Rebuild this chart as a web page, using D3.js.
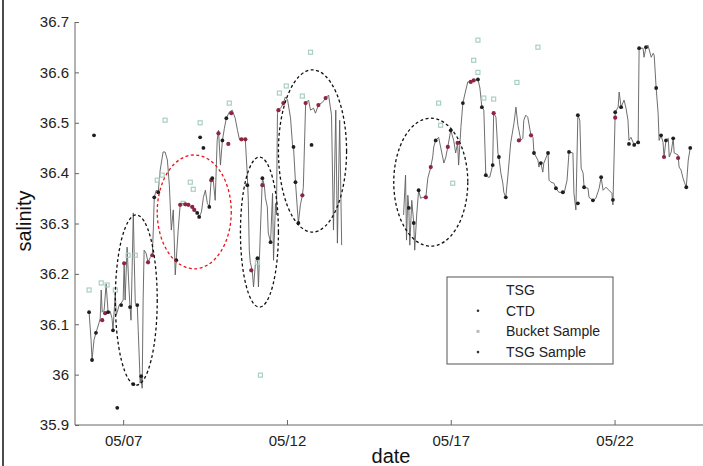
<!DOCTYPE html>
<html>
<head>
<meta charset="utf-8">
<script src="https://cdn.jsdelivr.net/npm/d3@7"></script>
<style>
  body { margin: 0; background: #fff; }
  svg { display: block; font-family: "Liberation Sans", Arial, sans-serif; }
</style>
</head>
<body>
<svg id="chart" width="703" height="466"></svg>
<script>
// day of May (decimal), salinity
const tsg = [
  [5.96,36.124],[6.02,36.069],[6.05,36.029],[6.11,36.069],[6.17,36.083],[6.27,36.104],[6.30,36.112],
  [6.33,36.168],[6.36,36.124],[6.42,36.128],[6.48,36.180],[6.54,36.124],[6.60,36.126],[6.66,36.112],
  [6.69,36.088],[6.76,36.162],[6.79,36.118],[6.88,36.138],[6.94,36.142],[7.00,36.148],[7.03,36.221],
  [7.06,36.148],[7.12,36.253],[7.18,36.168],[7.21,36.134],[7.24,36.108],[7.31,36.321],[7.34,36.227],
  [7.37,36.142],[7.43,36.138],[7.46,36.088],[7.52,35.983],[7.55,35.997],[7.58,35.973],[7.61,36.148],
  [7.64,36.247],[7.70,36.241],[7.76,36.223],[7.83,36.233],[7.89,36.237],[7.92,36.287],[7.95,36.352],
  [8.01,36.366],[8.07,36.362],[8.13,36.406],[8.22,36.442],[8.28,36.442],[8.35,36.426],[8.41,36.376],
  [8.47,36.287],[8.53,36.327],[8.56,36.267],[8.59,36.198],[8.62,36.227],[8.68,36.287],[8.74,36.337],
  [8.83,36.340],[8.90,36.338],[8.99,36.337],[9.05,36.334],[9.11,36.333],[9.17,36.327],[9.26,36.321],
  [9.32,36.313],[9.39,36.323],[9.45,36.352],[9.51,36.366],[9.57,36.340],[9.63,36.333],[9.69,36.390],
  [9.75,36.386],[9.81,36.346],[9.87,36.465],[9.91,36.485],[9.97,36.416],[10.03,36.465],[10.09,36.489],
  [10.15,36.509],[10.24,36.521],[10.33,36.525],[10.42,36.509],[10.49,36.485],[10.55,36.467],[10.64,36.469],
  [10.73,36.465],[10.79,36.396],[10.82,36.346],[10.85,36.247],[10.88,36.223],[10.94,36.207],[10.98,36.174],
  [11.04,36.223],[11.10,36.231],[11.13,36.174],[11.19,36.287],[11.25,36.390],[11.31,36.376],[11.34,36.352],
  [11.40,36.333],[11.43,36.281],[11.50,36.263],[11.56,36.360],[11.59,36.227],[11.65,36.340],[11.68,36.317],
  [11.71,36.519],[11.74,36.525],[11.83,36.531],[11.89,36.539],[11.95,36.551],[12.02,36.545],[12.11,36.509],
  [12.17,36.456],[12.20,36.452],[12.26,36.382],[12.32,36.327],[12.35,36.301],[12.41,36.337],[12.47,36.356],
  [12.50,36.372],[12.57,36.539],[12.66,36.545],[12.72,36.525],[12.81,36.529],[12.87,36.519],[12.96,36.535],
  [13.09,36.541],[13.18,36.549],[13.27,36.555],[13.36,36.515],[13.42,36.287],[13.49,36.525],[13.54,36.261],
  [13.61,36.505],[13.67,36.257],
  [13.8,null],
  [15.56,36.317],[15.62,36.396],[15.65,36.267],[15.69,36.356],[15.72,36.331],[15.75,36.257],[15.81,36.346],
  [15.87,36.301],[15.90,36.247],[15.96,36.317],[16.02,36.366],[16.08,36.350],[16.14,36.352],[16.24,36.352],
  [16.30,36.390],[16.39,36.412],[16.45,36.432],[16.48,36.452],[16.54,36.465],[16.63,36.471],[16.69,36.452],
  [16.79,36.420],[16.85,36.432],[16.91,36.452],[17.00,36.485],[17.09,36.465],[17.15,36.440],[17.21,36.460],
  [17.24,36.416],[17.31,36.491],[17.37,36.539],[17.46,36.565],[17.52,36.581],[17.61,36.581],[17.70,36.584],
  [17.83,36.586],[17.89,36.569],[17.95,36.531],[18.01,36.525],[18.07,36.396],[18.13,36.392],[18.19,36.392],
  [18.28,36.416],[18.31,36.519],[18.38,36.511],[18.44,36.440],[18.47,36.432],[18.53,36.400],[18.59,36.380],
  [18.62,36.362],[18.68,36.352],[18.74,36.392],[18.83,36.460],[18.93,36.499],[18.99,36.531],[19.05,36.495],
  [19.14,36.465],[19.20,36.469],[19.23,36.505],[19.29,36.515],[19.35,36.511],[19.45,36.475],[19.51,36.471],
  [19.54,36.440],[19.66,36.426],[19.69,36.412],[19.75,36.420],[19.81,36.402],[19.84,36.420],[19.97,36.440],
  [20.00,36.386],[20.06,36.382],[20.15,36.380],[20.21,36.370],[20.30,36.362],[20.42,36.362],[20.46,36.360],
  [20.55,36.386],[20.61,36.442],[20.73,36.440],[20.76,36.360],[20.82,36.327],[20.88,36.515],[20.94,36.505],
  [20.98,36.410],[21.04,36.400],[21.07,36.372],[21.19,36.370],[21.22,36.352],[21.34,36.346],[21.43,36.350],
  [21.53,36.370],[21.59,36.392],[21.65,36.366],[21.74,36.372],[21.83,36.366],[21.92,36.360],[21.95,36.337],
  [22.02,36.521],[22.11,36.531],[22.14,36.561],[22.20,36.531],[22.29,36.545],[22.35,36.529],[22.41,36.505],
  [22.44,36.465],[22.50,36.471],[22.60,36.456],[22.66,36.460],[22.72,36.461],[22.75,36.648],[22.87,36.648],
  [22.90,36.630],[22.96,36.650],[23.02,36.654],[23.12,36.630],[23.18,36.638],[23.21,36.634],[23.27,36.569],
  [23.33,36.519],[23.36,36.465],[23.42,36.475],[23.48,36.461],[23.51,36.432],[23.57,36.465],[23.64,36.469],
  [23.67,36.432],[23.73,36.442],[23.79,36.469],[23.82,36.440],[23.94,36.436],[23.97,36.412],[24.03,36.406],
  [24.09,36.390],[24.13,36.382],[24.19,36.372],[24.25,36.426],[24.31,36.450]
];

const ctd = [
  [5.96,36.124],[6.05,36.029],[6.17,36.083],[6.69,36.088],[6.54,36.124],[6.94,36.138],[7.21,36.134],
  [7.43,36.138],[7.31,35.981],[7.55,35.997],[6.82,35.934],[6.11,36.475],[7.95,36.352],[8.07,36.362],
  [8.62,36.227],[9.32,36.313],[9.26,36.321],[9.63,36.333],[9.72,36.390],[9.35,36.471],[9.45,36.450],
  [10.03,36.465],[10.15,36.509],[10.79,36.376],[11.25,36.390],[11.50,36.263],[11.10,36.231],[12.20,36.452],
  [12.26,36.382],[12.75,36.456],[12.35,36.301],[15.72,36.331],[15.87,36.301],[16.02,36.366],[16.54,36.465],
  [17.00,36.485],[17.37,36.539],[17.83,36.586],[17.95,36.531],[18.07,36.396],[18.28,36.416],[18.47,36.432],
  [18.68,36.352],[19.54,36.440],[19.75,36.420],[19.97,36.440],[20.21,36.370],[20.42,36.362],[20.61,36.442],
  [20.88,36.340],[20.88,36.515],[21.07,36.372],[21.34,36.346],[21.59,36.392],[21.95,36.347],[22.02,36.521],
  [22.20,36.531],[22.44,36.458],[22.60,36.456],[22.72,36.461],[22.75,36.648],[22.96,36.650],[23.27,36.569],
  [23.42,36.475],[23.57,36.465],[23.79,36.469],[24.19,36.372],[24.31,36.450]
];

const tsgSample = [
  [6.36,36.108],[6.45,36.122],[7.03,36.221],[7.76,36.223],[7.89,36.237],[8.74,36.337],[8.90,36.338],
  [8.99,36.337],[9.11,36.333],[9.17,36.327],[9.69,36.386],[9.91,36.479],[10.21,36.458],[10.30,36.519],
  [10.61,36.467],[10.73,36.467],[11.25,36.376],[10.91,36.207],[11.74,36.525],[11.89,36.539],[12.47,36.356],
  [12.57,36.539],[12.96,36.535],[13.18,36.549],[16.24,36.352],[16.39,36.412],[16.91,36.452],[17.21,36.460],
  [17.61,36.581],[17.70,36.584],[18.31,36.519],[19.08,36.465],[19.45,36.475],[22.02,36.510],[23.51,36.432],
  [23.94,36.430]
];

const bucket = [
  [5.96,36.168],[6.33,36.182],[6.51,36.178],[6.76,36.168],[7.15,36.237],[7.37,36.237],[8.04,36.386],
  [8.19,36.396],[8.28,36.505],[9.35,36.500],[9.05,36.382],[9.14,36.368],[8.83,36.340],[10.24,36.539],
  [11.10,36.223],[11.19,35.999],[11.77,36.559],[11.98,36.573],[12.72,36.640],[12.47,36.553],[16.63,36.539],
  [17.06,36.380],[16.69,36.495],[17.70,36.624],[17.83,36.664],[19.66,36.650],[18.01,36.549],[18.31,36.547],
  [19.02,36.580],[17.83,36.600]
];

const yTicks = [35.9, 36, 36.1, 36.2, 36.3, 36.4, 36.5, 36.6, 36.7];
const xTicks = [7, 12, 17, 22];

// circled regions: [centre day, centre salinity, half width (days), half height, colour]
const rings = [
  [7.40, 36.148, 0.64, 0.169, "#111"],
  [9.17, 36.323, 1.13, 0.113, "#e8141b"],
  [11.16, 36.283, 0.58, 0.149, "#111"],
  [12.78, 36.444, 1.04, 0.161, "#111"],
  [16.39, 36.382, 1.13, 0.127, "#111"]
];

const legendNames = ["TSG", "CTD", "Bucket Sample", "TSG Sample"];

const svg = d3.select("#chart");
const W = 703, H = 466;

const x = d3.scaleLinear().domain([5.53, 24.7]).range([75, 703]);
const y = d3.scaleLinear().domain([35.9, 36.7]).range([425, 22]);

// frame on the left of the figure
svg.append("line")
  .attr("x1", 3).attr("x2", 3).attr("y1", 0).attr("y2", H)
  .attr("stroke", "#111").attr("stroke-width", 1.5);

// axes
const yAxis = svg.append("g")
  .attr("transform", "translate(75,0)")
  .call(d3.axisRight(y).tickValues(yTicks).tickSize(4).tickFormat(d3.format("")));
yAxis.select(".domain").attr("stroke", "#666").attr("d", `M0,${y(36.7)}V${y(35.9)}`);
yAxis.selectAll(".tick line").attr("stroke", "#666");
yAxis.selectAll(".tick text")
  .attr("x", -6).attr("text-anchor", "end")
  .attr("font-size", 15).attr("fill", "#222");

const xAxis = svg.append("g")
  .attr("transform", "translate(0,425)")
  .call(d3.axisTop(x).tickValues(xTicks).tickSize(5)
    .tickFormat(d => "05/" + String(d).padStart(2, "0")));
xAxis.select(".domain").attr("stroke", "#666").attr("d", `M75,0H${W}`);
xAxis.selectAll(".tick line").attr("stroke", "#666");
xAxis.selectAll(".tick text")
  .attr("y", 21).attr("dy", null)
  .attr("font-size", 15).attr("fill", "#222");

svg.append("text")
  .attr("transform", "translate(31,221) rotate(-90)")
  .attr("text-anchor", "middle")
  .attr("font-size", 20).attr("fill", "#111")
  .text("salinity");

svg.append("text")
  .attr("x", 391).attr("y", 463)
  .attr("text-anchor", "middle")
  .attr("font-size", 20).attr("fill", "#111")
  .text("date");

// TSG line
const line = d3.line()
  .defined(d => d[1] !== null)
  .x(d => x(d[0]))
  .y(d => y(d[1]));

svg.append("path")
  .datum(tsg)
  .attr("fill", "none")
  .attr("stroke", "#5e5e5e")
  .attr("stroke-width", 0.9)
  .attr("d", line);

// bucket samples
svg.append("g").selectAll("rect")
  .data(bucket)
  .join("rect")
  .attr("x", d => x(d[0]) - 2)
  .attr("y", d => y(d[1]) - 2)
  .attr("width", 4).attr("height", 4)
  .attr("fill", "none")
  .attr("stroke", "#a9cfc2")
  .attr("stroke-width", 1.2);

// TSG samples
svg.append("g").selectAll("circle")
  .data(tsgSample)
  .join("circle")
  .attr("cx", d => x(d[0]))
  .attr("cy", d => y(d[1]))
  .attr("r", 2.1)
  .attr("fill", "#8c2640");

// CTD
svg.append("g").selectAll("circle")
  .data(ctd)
  .join("circle")
  .attr("cx", d => x(d[0]))
  .attr("cy", d => y(d[1]))
  .attr("r", 1.9)
  .attr("fill", "#1e1e1e");

// dashed rings
svg.append("g").selectAll("ellipse")
  .data(rings)
  .join("ellipse")
  .attr("cx", d => x(d[0]))
  .attr("cy", d => y(d[1]))
  .attr("rx", d => x(d[0] + d[2]) - x(d[0]))
  .attr("ry", d => y(d[1]) - y(d[1] + d[3]))
  .attr("fill", "none")
  .attr("stroke", d => d[4])
  .attr("stroke-width", 1.3)
  .attr("stroke-dasharray", "3,2.5");

// legend
const lg = svg.append("g").attr("transform", "translate(447,277)");
lg.append("rect")
  .attr("width", 166).attr("height", 87)
  .attr("fill", "#fff").attr("stroke", "#555").attr("stroke-width", 1);

const item = lg.selectAll("g.item")
  .data(legendNames)
  .join("g")
  .attr("class", "item")
  .attr("transform", (d, i) => `translate(0,${13 + i * 20.7})`);

item.append("text")
  .attr("x", 59).attr("dy", "0.35em")
  .attr("font-size", 14).attr("fill", "#222")
  .text(d => d);

item.filter((d, i) => i === 1 || i === 3)
  .append("circle")
  .attr("cx", 31).attr("r", 1.3).attr("fill", "#333");

item.filter((d, i) => i === 2)
  .append("rect")
  .attr("x", 29.5).attr("y", -1.5).attr("width", 3).attr("height", 3)
  .attr("fill", "#bbb");
</script>
</body>
</html>
